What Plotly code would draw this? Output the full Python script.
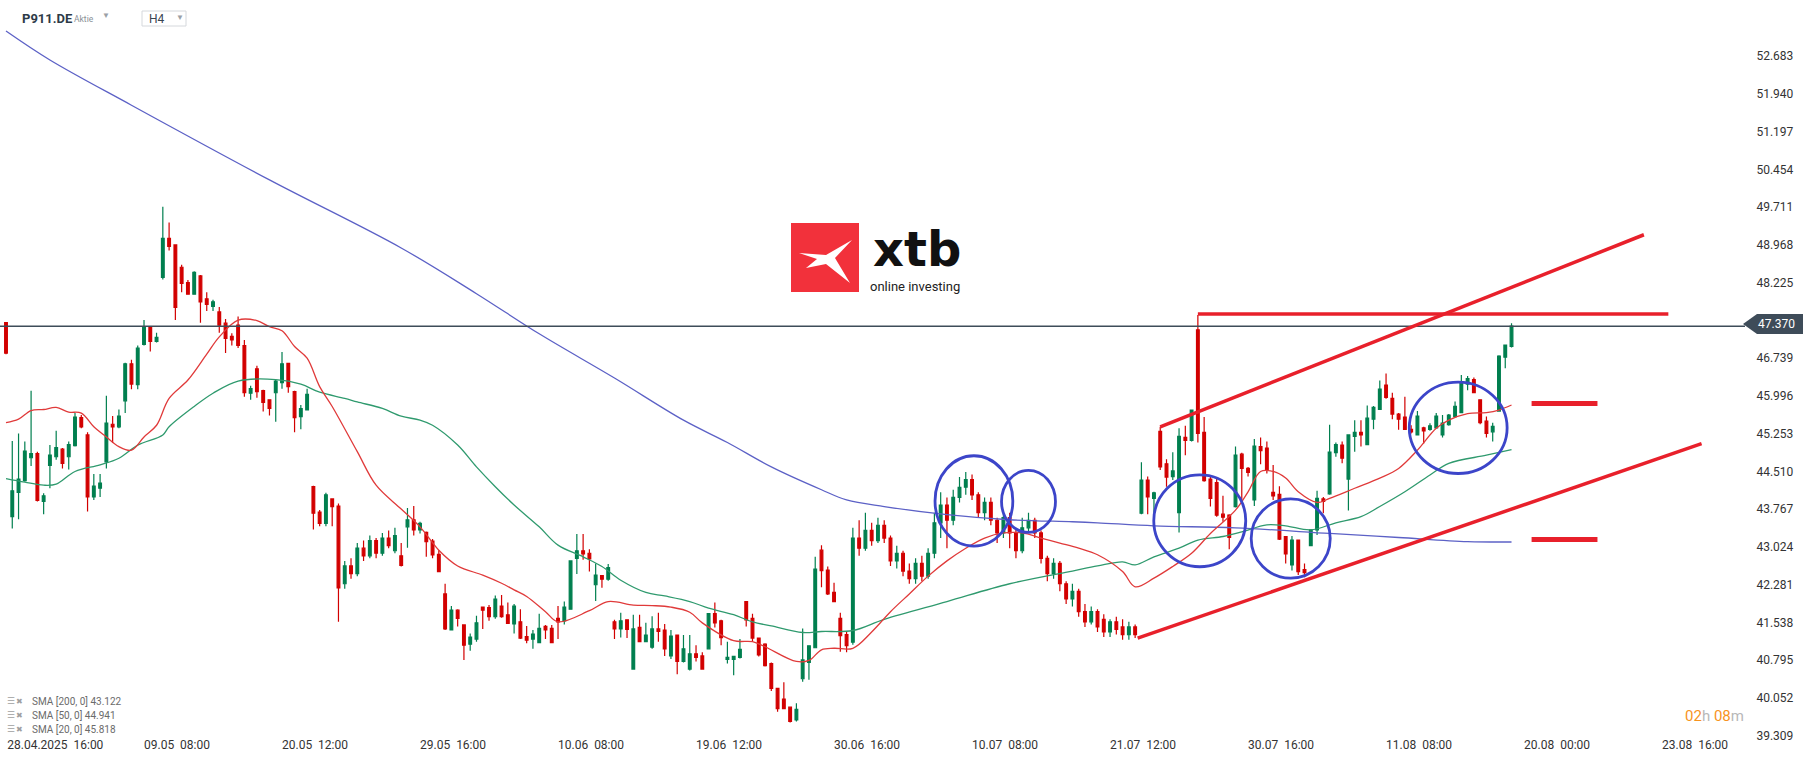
import plotly.graph_objects as go

# ---------------- data (H4 candles, bar index 0 = 28.04.2025 16:00) ----------------
opens = [47.44, 43.62, 44.10, 44.33, 44.78, 44.86, 43.92, 44.63, 44.80, 44.95,
         44.80, 45.02, 45.57, 45.23, 44.01, 44.18, 44.70, 45.44, 45.39, 45.90,
         46.63, 46.22, 47.01, 47.36, 47.07, 48.33, 49.10, 48.97, 48.53, 48.23,
         48.00, 48.36, 47.91, 47.76, 47.65, 47.43, 47.17, 47.39, 46.99, 46.05,
         46.53, 46.10, 45.92, 46.06, 46.26, 46.64, 46.08, 45.59, 45.72, 44.21,
         43.71, 43.49, 43.97, 43.83, 42.30, 42.65, 42.50, 43.00, 42.85, 43.15,
         42.90, 43.20, 42.95, 42.85, 43.42, 43.56, 43.36, 43.31, 43.14, 42.88,
         42.10, 41.39, 41.78, 41.49, 41.11, 41.21, 41.84, 41.83, 41.65, 41.86,
         41.69, 41.51, 41.55, 41.26, 41.21, 41.14, 41.46, 41.42, 41.62, 41.57,
         41.80, 42.80, 42.95, 42.90, 42.28, 42.46, 42.39, 41.55, 41.41, 41.59,
         40.62, 41.44, 41.16, 41.05, 41.41, 41.39, 40.88, 41.29, 40.77, 40.62,
         40.92, 40.88, 41.02, 41.71, 41.57, 40.81, 40.81, 40.85, 41.95, 41.62,
         41.23, 41.11, 40.73, 40.24, 40.03, 39.87, 39.62, 40.43, 40.75, 41.04,
         42.96, 42.57, 42.13, 41.62, 41.30, 41.15, 43.20, 43.00, 43.35, 43.15,
         43.45, 43.20, 42.75, 42.90, 42.55, 42.40, 42.70, 42.45, 42.90, 43.50,
         43.85, 43.55, 44.00, 44.20, 44.35, 44.05, 43.70, 43.90, 43.55, 43.30,
         43.60, 43.30, 42.95, 43.40, 43.55, 43.30, 42.80, 42.50, 42.70, 42.30,
         42.00, 42.15, 41.75, 41.55, 41.75, 41.60, 41.35, 41.55, 41.45, 41.30,
         41.45, 43.69, 44.34, 43.98, 45.30, 44.66, 44.41, 43.70, 45.18, 45.12,
         47.30, 45.28, 44.36, 44.29, 43.67, 43.65, 43.82, 44.85, 44.57, 43.95,
         45.00, 44.97, 44.10, 44.06, 43.23, 42.67, 43.16, 42.58, 43.05, 43.36,
         43.97, 44.07, 44.88, 45.03, 44.36, 45.20, 45.28, 45.04, 45.54, 45.73,
         46.21, 45.95, 45.64, 45.58, 45.34, 45.23, 45.37, 45.34, 45.37, 45.23,
         45.43, 45.59, 45.67, 46.23, 46.32, 45.92, 45.50, 45.29, 45.70, 46.76,
         46.97]
highs = [47.44, 45.11, 45.26, 45.10, 46.10, 44.90, 44.08, 45.03, 45.31, 44.97,
         45.10, 45.66, 45.62, 45.28, 44.46, 44.46, 46.00, 45.60, 45.73, 46.65,
         46.71, 46.99, 47.49, 47.37, 47.24, 49.72, 49.41, 48.98, 48.58, 48.28,
         48.45, 48.38, 48.04, 47.89, 47.75, 47.51, 47.23, 47.56, 47.10, 46.20,
         46.59, 46.12, 45.93, 46.31, 46.86, 46.65, 46.10, 45.82, 46.14, 44.23,
         43.75, 44.09, 43.98, 43.88, 42.75, 42.80, 43.10, 43.15, 43.25, 43.20,
         43.30, 43.35, 43.40, 43.10, 43.79, 43.83, 43.52, 43.33, 43.18, 42.96,
         42.30, 41.86, 41.80, 41.50, 41.32, 41.67, 41.85, 41.88, 42.07, 42.08,
         41.93, 41.90, 41.80, 41.47, 41.39, 41.71, 41.49, 41.49, 41.86, 41.95,
         42.75, 43.28, 43.28, 42.98, 42.70, 42.47, 42.69, 41.59, 41.73, 41.60,
         41.69, 41.69, 41.53, 41.66, 41.73, 41.51, 41.39, 41.30, 41.29, 41.29,
         41.09, 40.95, 41.72, 41.93, 41.59, 41.16, 40.88, 41.21, 41.96, 41.71,
         41.24, 41.13, 40.75, 40.25, 40.36, 39.88, 39.95, 41.42, 41.09, 42.83,
         43.06, 42.64, 42.32, 41.73, 41.37, 43.40, 43.55, 43.70, 43.50, 43.60,
         43.55, 43.25, 43.05, 42.95, 42.70, 42.80, 42.85, 43.00, 43.70, 44.10,
         44.00, 44.15, 44.40, 44.50, 44.45, 44.10, 44.00, 44.00, 43.60, 43.75,
         43.70, 43.40, 43.60, 43.70, 43.60, 43.35, 42.85, 42.80, 42.75, 42.35,
         42.30, 42.20, 41.90, 41.85, 41.80, 41.70, 41.60, 41.65, 41.60, 41.55,
         41.50, 44.69, 44.41, 44.11, 45.39, 44.75, 44.89, 45.36, 45.41, 45.73,
         47.59, 45.58, 44.44, 44.37, 44.03, 43.67, 45.00, 44.88, 44.60, 45.15,
         45.18, 45.10, 44.64, 44.22, 43.24, 43.24, 43.17, 42.70, 43.37, 44.13,
         44.01, 45.43, 45.08, 45.10, 45.24, 45.52, 45.52, 45.81, 45.80, 46.30,
         46.44, 46.06, 45.66, 45.98, 45.42, 45.70, 45.39, 45.46, 45.66, 45.62,
         45.64, 45.89, 46.41, 46.39, 46.36, 45.93, 45.59, 45.47, 46.80, 47.01,
         47.43]
lows = [46.82, 43.39, 43.57, 44.31, 44.62, 43.92, 43.67, 44.18, 44.74, 44.57,
        44.55, 45.00, 45.36, 43.72, 43.95, 44.01, 44.57, 45.07, 45.36, 45.66,
        46.13, 46.13, 46.99, 46.87, 47.05, 48.29, 48.86, 47.49, 48.04, 47.99,
        47.99, 47.44, 47.67, 47.67, 47.24, 46.84, 46.99, 46.94, 45.98, 45.92,
        45.96, 45.69, 45.61, 45.49, 46.14, 46.06, 45.28, 45.34, 45.71, 43.37,
        43.43, 43.43, 43.43, 41.55, 42.20, 42.40, 42.45, 42.75, 42.80, 42.80,
        42.85, 43.00, 42.90, 42.64, 43.01, 43.25, 43.29, 42.83, 42.80, 42.53,
        41.39, 41.38, 41.46, 40.80, 40.98, 41.16, 41.41, 41.57, 41.61, 41.63,
        41.51, 41.32, 41.21, 41.13, 41.02, 41.13, 41.21, 41.14, 41.21, 41.50,
        41.80, 42.49, 42.77, 42.54, 41.96, 42.22, 42.36, 41.21, 41.24, 41.23,
        40.62, 41.16, 41.16, 41.02, 41.16, 40.88, 40.82, 40.52, 40.75, 40.59,
        40.77, 40.62, 41.02, 41.44, 41.09, 40.73, 40.50, 40.83, 41.46, 41.16,
        40.87, 40.67, 40.19, 39.78, 39.83, 39.57, 39.59, 40.37, 40.41, 41.03,
        42.23, 42.08, 41.95, 40.96, 40.95, 41.10, 42.85, 42.95, 43.05, 43.10,
        43.10, 42.65, 42.60, 42.45, 42.30, 42.30, 42.35, 42.40, 42.80, 43.20,
        43.00, 43.45, 43.90, 44.05, 43.95, 43.60, 43.55, 43.45, 43.10, 43.20,
        43.00, 42.80, 42.90, 43.30, 43.20, 42.70, 42.35, 42.40, 42.15, 41.90,
        41.85, 41.65, 41.45, 41.50, 41.35, 41.25, 41.25, 41.30, 41.20, 41.20,
        41.23, 43.67, 43.67, 43.70, 44.54, 44.21, 44.34, 43.31, 44.83, 45.10,
        45.08, 44.31, 43.82, 43.62, 43.52, 42.98, 43.80, 43.95, 44.41, 43.83,
        44.65, 44.47, 43.95, 43.16, 42.70, 42.56, 42.47, 42.43, 43.04, 43.26,
        43.69, 44.05, 44.80, 44.67, 43.74, 44.90, 45.00, 45.03, 45.34, 45.72,
        45.94, 45.54, 45.33, 45.33, 45.26, 45.22, 45.06, 45.31, 45.36, 45.18,
        45.41, 45.58, 45.66, 46.11, 46.05, 45.44, 45.18, 45.10, 45.69, 46.54,
        46.95]
closes = [46.84, 44.13, 44.36, 44.91, 44.86, 43.94, 44.03, 44.83, 44.98, 44.67,
          45.04, 45.58, 45.39, 44.01, 44.22, 44.28, 45.46, 45.39, 45.60, 46.63,
          46.23, 46.94, 47.34, 47.07, 47.15, 49.10, 48.94, 47.74, 48.21, 48.00,
          48.43, 47.85, 47.80, 47.85, 47.39, 47.13, 47.10, 46.99, 46.06, 46.14,
          46.08, 45.87, 45.75, 46.29, 46.63, 46.18, 45.57, 45.75, 46.03, 43.69,
          43.49, 44.05, 43.82, 42.22, 42.65, 42.50, 43.00, 42.85, 43.15, 42.90,
          43.20, 43.05, 43.25, 42.66, 43.56, 43.36, 43.49, 43.13, 42.87, 42.54,
          41.41, 41.78, 41.62, 41.09, 41.25, 41.53, 41.78, 41.65, 42.00, 41.65,
          41.52, 41.86, 41.23, 41.19, 41.31, 41.42, 41.39, 41.14, 41.55, 41.84,
          42.75, 42.95, 42.89, 42.79, 42.47, 42.39, 42.62, 41.41, 41.57, 41.40,
          41.41, 41.16, 41.29, 41.41, 41.36, 41.02, 41.27, 40.77, 41.02, 40.92,
          40.85, 40.62, 41.71, 41.53, 41.24, 40.85, 40.87, 41.01, 41.59, 41.23,
          40.90, 40.69, 40.24, 39.84, 39.84, 39.59, 39.83, 40.80, 41.08, 42.59,
          42.56, 42.10, 41.95, 41.28, 41.08, 43.20, 43.00, 43.35, 43.15, 43.45,
          43.20, 42.75, 42.90, 42.55, 42.40, 42.70, 42.45, 42.90, 43.50, 43.85,
          43.55, 44.00, 44.20, 44.35, 44.05, 43.70, 43.90, 43.55, 43.30, 43.60,
          43.30, 42.95, 43.40, 43.55, 43.30, 42.80, 42.50, 42.70, 42.30, 42.00,
          42.15, 41.75, 41.55, 41.75, 41.45, 41.35, 41.55, 41.40, 41.30, 41.45,
          41.30, 44.34, 44.01, 44.09, 44.60, 44.40, 44.52, 45.20, 45.12, 45.72,
          45.26, 44.33, 43.98, 43.65, 43.61, 43.21, 44.83, 44.57, 44.49, 45.01,
          44.92, 44.55, 44.03, 43.18, 42.89, 43.16, 42.54, 42.52, 43.36, 43.98,
          43.92, 44.89, 45.04, 44.77, 45.23, 45.28, 45.23, 45.56, 45.77, 46.13,
          45.97, 45.64, 45.54, 45.34, 45.29, 45.60, 45.31, 45.41, 45.60, 45.46,
          45.62, 45.79, 46.25, 46.34, 46.06, 45.47, 45.26, 45.40, 46.78, 47.00,
          47.37]

# moving averages (bar index, value)
sma200_bars = [0, 7, 20, 42, 63, 75, 85, 97, 108, 115, 122, 130, 134, 140, 150, 160,
               170, 174, 183, 196, 211, 222, 233, 240]
sma200_vals = [53.18, 52.61, 51.72, 50.25, 48.91, 48.01, 47.22, 46.35, 45.52, 45.08,
               44.60, 44.15, 43.95, 43.82, 43.66, 43.56, 43.52, 43.50, 43.44, 43.40,
               43.29, 43.21, 43.13, 43.122]
sma50_bars = [0, 3, 6, 8, 11, 15, 18, 21, 25, 26, 30, 33, 37, 43, 47, 50, 54, 56, 60,
              63, 66, 68, 72, 75, 78, 81, 85, 88, 92, 95, 98, 102, 105, 109, 112, 116,
              119, 122, 127, 130, 135, 140, 150, 160, 170, 174, 178, 180, 183, 187, 190,
              194, 197, 201, 204, 208, 212, 216, 219, 223, 227, 230, 236, 240]
sma50_vals = [44.37, 44.30, 44.24, 44.26, 44.51, 44.64, 44.77, 45.03, 45.23, 45.39,
              45.79, 46.05, 46.29, 46.32, 46.23, 46.07, 45.95, 45.88, 45.75, 45.60,
              45.52, 45.42, 45.03, 44.60, 44.21, 43.85, 43.42, 43.06, 42.83, 42.64,
              42.37, 42.13, 42.06, 41.95, 41.82, 41.69, 41.55, 41.47, 41.34, 41.36,
              41.38, 41.60, 41.95, 42.30, 42.55, 42.65, 42.73, 42.67, 42.83, 43.00,
              43.16, 43.23, 43.32, 43.46, 43.44, 43.36, 43.50, 43.62, 43.82, 44.11,
              44.44, 44.67, 44.83, 44.941]
sma20_bars = [0, 2, 4, 6, 8, 10, 12, 14, 16, 18, 20, 22, 24, 26, 29, 32, 34, 37, 40,
              42, 44, 46, 48, 50, 52, 56, 59, 63, 66, 69, 72, 76, 79, 81, 83, 86, 88,
              93, 96, 100, 103, 106, 109, 111, 116, 119, 121, 126, 128, 130, 132, 135,
              138, 141, 144, 147, 150, 153, 156, 159, 162, 165, 168, 171, 174, 178, 180,
              183, 186, 189, 192, 196, 198, 200, 202, 204, 206, 209, 211, 215, 219, 222,
              225, 228, 230, 233, 236, 238, 240]
sma20_vals = [45.47, 45.54, 45.71, 45.73, 45.77, 45.68, 45.66, 45.39, 45.19, 45.00,
              44.93, 45.19, 45.42, 45.95, 46.31, 46.82, 47.16, 47.49, 47.48, 47.36,
              47.28, 46.97, 46.74, 46.18, 45.79, 44.90, 44.24, 43.77, 43.42, 42.96,
              42.65, 42.47, 42.31, 42.18, 42.05, 41.75, 41.55, 41.77, 41.95, 41.88,
              41.87, 41.84, 41.74, 41.53, 41.18, 41.16, 41.06, 40.77, 40.79, 41.00,
              41.03, 41.03, 41.35, 41.75, 42.10, 42.45, 42.75, 43.00, 43.20, 43.30,
              43.30, 43.20, 43.10, 43.00, 42.87, 42.54, 42.24, 42.41, 42.64, 42.90,
              43.29, 43.75, 44.11, 44.51, 44.51, 44.38, 44.11, 43.90, 43.98, 44.18,
              44.38, 44.57, 44.93, 45.36, 45.52, 45.65, 45.67, 45.72, 45.818]

last_price = 47.370
x_tick_labels = ["28.04.2025\u00a0 16:00", "09.05\u00a0 08:00", "20.05\u00a0 12:00",
                 "29.05\u00a0 16:00", "10.06\u00a0 08:00", "19.06\u00a0 12:00",
                 "30.06\u00a0 16:00", "10.07\u00a0 08:00", "21.07\u00a0 12:00",
                 "30.07\u00a0 16:00", "11.08\u00a0 08:00", "20.08\u00a0 00:00",
                 "23.08\u00a0 16:00"]
y_tick_labels = ["39.309", "40.052", "40.795", "41.538", "42.281", "43.024", "43.767",
                 "44.510", "45.253", "45.996", "46.739", "47.482", "48.225", "48.968",
                 "49.711", "50.454", "51.197", "51.940", "52.683"]

# ---------------- figure ----------------
W, H = 1815, 761
ML, MR, MT, MB = 0, 70, 0, 25
PW, PH = W - ML - MR, H - MT - MB


def px(x):
    return (x - ML) / PW


def py(y):
    return 1 - (y - MT) / PH


bars = list(range(len(opens)))
fig = go.Figure()
fig.add_trace(go.Candlestick(
    x=bars, open=opens, high=highs, low=lows, close=closes,
    increasing=dict(line=dict(color="#017f4f", width=1.2), fillcolor="#017f4f"),
    decreasing=dict(line=dict(color="#d20000", width=1.2), fillcolor="#d20000"),
    whiskerwidth=0, hoverinfo="skip", showlegend=False))

for bx, vals, col in [(sma200_bars, sma200_vals, "#5c61c6"),
                      (sma50_bars, sma50_vals, "#2f9a6e"),
                      (sma20_bars, sma20_vals, "#e03a3a")]:
    fig.add_trace(go.Scatter(x=bx, y=vals, mode="lines", line=dict(color=col, width=1.3),
                             line_shape="spline", hoverinfo="skip", showlegend=False))

RED = "#e8202b"
BLUE = "#3c45c9"
shapes = []
# current price line
shapes.append(dict(type="line", xref="paper", yref="y", x0=0, x1=1, y0=last_price, y1=last_price,
                   line=dict(color="#3e4c59", width=1.4), layer="above"))
# channel and resistance drawings (bar index / price)
for (xa, ya, xb, yb, w) in [(184.0, 45.39, 261.1, 49.17, 3.5),
                            (180.4, 41.23, 270.3, 45.06, 3.5),
                            (190.0, 47.61, 265.0, 47.61, 3.4),
                            (243.2, 45.85, 253.7, 45.85, 5),
                            (243.2, 43.17, 253.7, 43.17, 5)]:
    shapes.append(dict(type="line", xref="x", yref="y", x0=xa, y0=ya, x1=xb, y1=yb,
                       line=dict(color=RED, width=w), layer="above"))
# circles (center bar, radius bars, center price, radius price)
for (cx, rx, cy, ry) in [(154.3, 6.2, 43.93, 0.89), (163.0, 4.3, 43.92, 0.61),
                         (190.3, 7.33, 43.54, 0.905), (204.8, 6.3, 43.19, 0.78),
                         (231.5, 7.8, 45.37, 0.90)]:
    shapes.append(dict(type="circle", xref="x", yref="y", x0=cx - rx, x1=cx + rx,
                       y0=cy - ry, y1=cy + ry, line=dict(color=BLUE, width=2.8), layer="above"))
# price tag
shapes.append(dict(type="path", xref="paper", yref="paper",
                   path=f"M {px(1743)} {py(324)} L {px(1757)} {py(314)} L {px(1803)} {py(314)} "
                        f"L {px(1803)} {py(334)} L {px(1757)} {py(334)} Z",
                   fillcolor="#3e4c59", line=dict(width=0), layer="above"))
# xtb logo
shapes.append(dict(type="rect", xref="paper", yref="paper", x0=px(791), x1=px(859),
                   y0=py(292), y1=py(223), fillcolor="#f2313b", line=dict(width=0), layer="above"))
logo_pts = [(799, 253), (826, 255), (852, 240), (835, 258), (850, 283), (826, 264), (806, 268), (817, 259)]
shapes.append(dict(type="path", xref="paper", yref="paper",
                   path="M " + " L ".join(f"{px(a)} {py(b)}" for a, b in logo_pts) + " Z",
                   fillcolor="white", line=dict(width=0), layer="above"))
# H4 box
shapes.append(dict(type="rect", xref="paper", yref="paper", x0=px(142), x1=px(186),
                   y0=py(26), y1=py(11), line=dict(color="#d5d8dc", width=1), layer="above"))

annotations = []


def ann(x, y, text, size=12, color="#333", xanchor="left", family="Roboto", yanchor="middle", **kw):
    annotations.append(dict(xref="paper", yref="paper", x=px(x), y=py(y), text=text,
                            showarrow=False, xanchor=xanchor, yanchor=yanchor,
                            font=dict(size=size, color=color, family=family), **kw))


ann(20, 18, "<b>P911.DE</b>", size=13, color="#2d3b48")
ann(72, 19, "Aktie", size=8.5, color="#8a9097")
ann(100, 16, "▼", size=8, color="#9aa0a6")
ann(147, 19, "H4", size=12, color="#3a4550")
ann(174, 17, "▼", size=8, color="#9aa0a6")
ann(872, 278, "<b>xtb</b>", size=48, color="#111111", family="DejaVu Sans", yanchor="bottom",
    borderpad=0)
ann(869, 278, "online investing", size=13, color="#222222", yanchor="top", borderpad=0)
ann(1756, 324, f"{last_price:.3f}", size=12, color="#ffffff")
ann(1746, 716, "<span style='color:#f7931e'>02</span><span style='color:#b8b8b8'>h</span> "
               "<span style='color:#f7931e'>08</span><span style='color:#b8b8b8'>m</span>",
    size=15, xanchor="right")
legend_rows = [("SMA [200, 0]", sma200_vals[-1], 701), ("SMA [50, 0]", sma50_vals[-1], 715),
               ("SMA [20, 0]", sma20_vals[-1], 729)]
for name, val, yy in legend_rows:
    ann(5, yy, "☰", size=9, color="#a0a0a0")
    ann(14, yy, "✖", size=8, color="#a0a0a0")
    ann(30, yy, f"{name} {val:.3f}", size=10, color="#6b6b6b")

tick_pos = [22 * k for k in range(len(x_tick_labels))]
tick_pos[0] = 2.6

fig.update_layout(
    width=W, height=H, margin=dict(l=ML, r=MR, t=MT, b=MB),
    paper_bgcolor="white", plot_bgcolor="white", showlegend=False,
    boxgap=0.38, shapes=shapes, annotations=annotations,
    xaxis=dict(range=[-6 / 6.273, (PW - 6) / 6.273], rangeslider=dict(visible=False),
               showgrid=False, zeroline=False, showline=False, ticks="",
               tickvals=tick_pos, ticktext=x_tick_labels, ticklabelshift=33,
               tickfont=dict(family="Roboto", size=12, color="#333")),
    yaxis=dict(range=[39.303, 53.791], side="right", showgrid=False, zeroline=False,
               showline=False, ticks="outside", ticklen=8, tickcolor="rgba(0,0,0,0)",
               tickvals=[float(v) for v in y_tick_labels], ticktext=y_tick_labels,
               tickfont=dict(family="Roboto", size=12, color="#333")),
)

fig.write_html("out.html", config={"displayModeBar": False},
               post_script="document.body.style.margin='0';document.body.style.overflow='hidden';")
